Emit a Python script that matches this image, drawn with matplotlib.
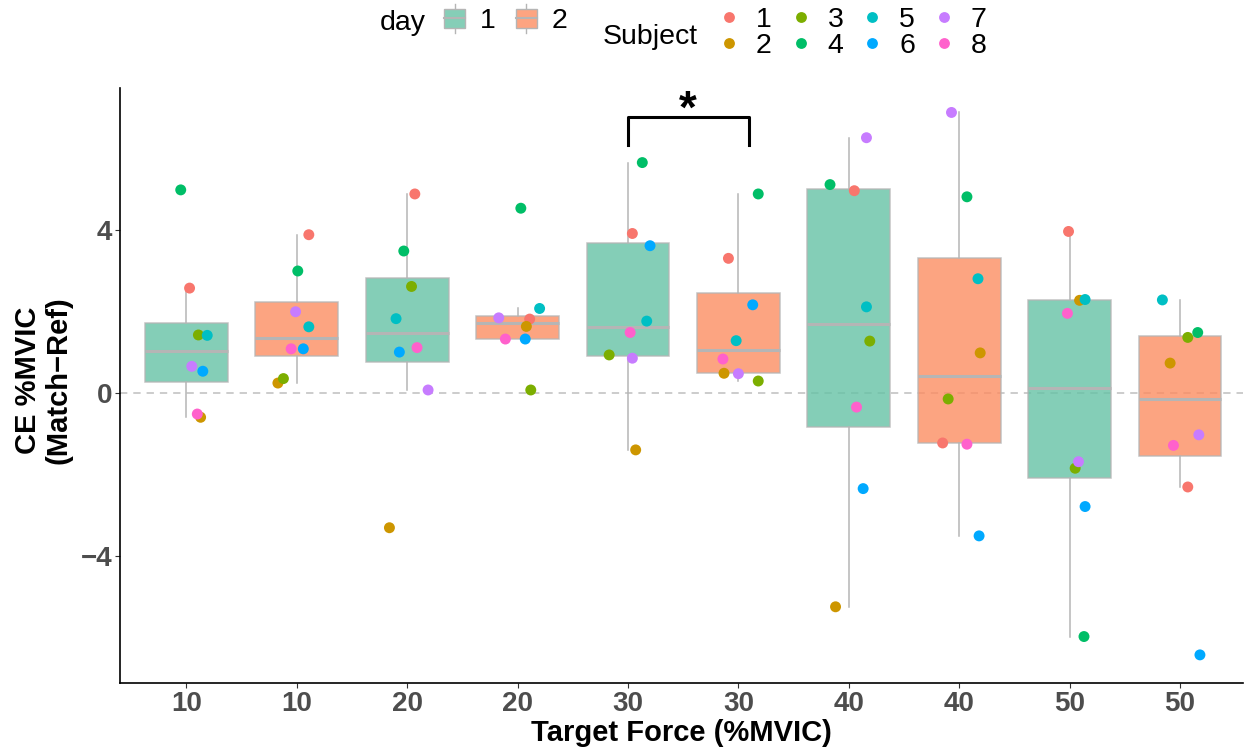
import numpy as np
import matplotlib
matplotlib.use("Agg")
import matplotlib.pyplot as plt
from matplotlib.patches import Rectangle
from matplotlib.lines import Line2D
from matplotlib.legend_handler import HandlerBase


# ============================================
# DATA
# ============================================
target_labels = ["10", "10", "20", "20", "30", "30", "40", "40", "50", "50"]
day_of_box = [1, 2, 1, 2, 1, 2, 1, 2, 1, 2]
subjects = [1, 2, 3, 4, 5, 6, 7, 8]

# CE values per box, subject 1..8
ce_10_d1 = [2.57, -0.60, 1.42, 4.98, 1.41, 0.53, 0.65, -0.52]
ce_10_d2 = [3.88, 0.24, 0.35, 2.99, 1.62, 1.08, 1.99, 1.08]
ce_20_d1 = [4.88, -3.31, 2.61, 3.48, 1.82, 1.00, 0.07, 1.11]
ce_20_d2 = [1.81, 1.63, 0.07, 4.53, 2.07, 1.32, 1.84, 1.32]
ce_30_d1 = [3.91, -1.40, 0.93, 5.65, 1.76, 3.61, 0.85, 1.48]
ce_30_d2 = [3.30, 0.48, 0.29, 4.88, 1.28, 2.16, 0.47, 0.83]
ce_40_d1 = [4.96, -5.25, 1.27, 5.11, 2.11, -2.35, 6.26, -0.35]
ce_40_d2 = [-1.23, 0.98, -0.15, 4.81, 2.80, -3.51, 6.88, -1.26]
ce_50_d1 = [3.96, 2.27, -1.85, -5.98, 2.29, -2.79, -1.69, 1.95]
ce_50_d2 = [-2.31, 0.73, 1.36, 1.48, 2.28, -6.43, -1.03, -1.29]

# horizontal jitter of each point (category units), subject 1..8
jit_10_d1 = [0.03, 0.13, 0.11, -0.05, 0.19, 0.15, 0.05, 0.10]
jit_10_d2 = [0.11, -0.17, -0.12, 0.01, 0.11, 0.06, -0.01, -0.05]
jit_20_d1 = [0.07, -0.16, 0.04, -0.03, -0.10, -0.07, 0.19, 0.09]
jit_20_d2 = [0.11, 0.08, 0.12, 0.03, 0.20, 0.07, -0.17, -0.11]
jit_30_d1 = [0.04, 0.07, -0.17, 0.13, 0.17, 0.20, 0.04, 0.02]
jit_30_d2 = [-0.09, -0.13, 0.18, 0.18, -0.02, 0.13, 0.00, -0.14]
jit_40_d1 = [0.05, -0.12, 0.19, -0.17, 0.16, 0.13, 0.16, 0.07]
jit_40_d2 = [-0.15, 0.19, -0.10, 0.07, 0.17, 0.18, -0.07, 0.07]
jit_50_d1 = [-0.01, 0.09, 0.05, 0.13, 0.14, 0.14, 0.08, -0.02]
jit_50_d2 = [0.07, -0.09, 0.07, 0.16, -0.16, 0.18, 0.17, -0.06]

ce_values = [ce_10_d1, ce_10_d2, ce_20_d1, ce_20_d2, ce_30_d1,
             ce_30_d2, ce_40_d1, ce_40_d2, ce_50_d1, ce_50_d2]
jitters = [jit_10_d1, jit_10_d2, jit_20_d1, jit_20_d2, jit_30_d1,
           jit_30_d2, jit_40_d1, jit_40_d2, jit_50_d1, jit_50_d2]

# significance bracket between the two 30 %MVIC boxes
sig_x = [5, 6.1]
sig_y_low = 6.07
sig_y_high = 6.76


# ============================================
# STYLE
# ============================================
plt.rcParams['font.family'] = ['Liberation Sans', 'DejaVu Sans']

day_colors = {1: "#66C2A5", 2: "#FC8D62"}
subject_colors = ["#F8766D", "#CD9600", "#7CAE00", "#00BE67",
                  "#00BFC4", "#00A9FF", "#C77CFF", "#FF61CC"]
box_gray = "#B5B5B5"
tick_gray = "#4D4D4D"
legend_size = 20.5


# ============================================
# LEGEND KEY THAT LOOKS LIKE A BOXPLOT
# ============================================
class BoxKey(HandlerBase):

    def create_artists(self, legend, orig_handle, xdescent, ydescent,
                       width, height, fontsize, trans):

        cx = -xdescent + width / 2
        y0 = -ydescent

        whisker = Line2D([cx, cx], [y0 - 0.3 * height, y0 + 1.3 * height],
                         color=box_gray, lw=1.0, transform=trans)
        rect = Rectangle((-xdescent, y0), width, height,
                         facecolor=orig_handle.get_facecolor(),
                         edgecolor=box_gray, lw=1.0, transform=trans)
        median = Line2D([-xdescent, -xdescent + width],
                        [y0 + height / 2, y0 + height / 2],
                        color=box_gray, lw=1.5, transform=trans)

        return [whisker, rect, median]


# ============================================
# FIGURE
# ============================================
W, H = 1244, 755
fig = plt.figure(figsize=(W / 100, H / 100), dpi=100)
ax = fig.add_axes([120 / W, 1 - 683 / H, 1123 / W, 595 / H])

positions = np.arange(1, len(ce_values) + 1)

ax.axhline(0, color="#BEBEBE", lw=1.1, linestyle=(0, (4.8, 3.9)), zorder=0)

bp = ax.boxplot(
    ce_values,
    positions=positions,
    widths=0.75,
    whis=1.5,
    patch_artist=True,
    showfliers=False,
    showcaps=False,
    boxprops=dict(edgecolor=box_gray, linewidth=1.1),
    whiskerprops=dict(color=box_gray, linewidth=1.1),
    medianprops=dict(color=box_gray, linewidth=2.2),
    zorder=1
)

for patch, d in zip(bp['boxes'], day_of_box):
    patch.set_facecolor(day_colors[d])
    patch.set_alpha(0.8)
    patch.set_edgecolor(box_gray)

# jittered subject points
for pos, vals, jit in zip(positions, ce_values, jitters):
    for s, v, j in zip(subjects, vals, jit):
        ax.scatter(pos + j, v, s=62, color=subject_colors[s - 1],
                   edgecolors='none', zorder=3)

# significance bracket
ax.plot([sig_x[0], sig_x[0], sig_x[1], sig_x[1]],
        [sig_y_low, sig_y_high, sig_y_high, sig_y_low],
        color="black", lw=2.2, zorder=4)
ax.text(np.mean(sig_x) - 0.01, 6.62, "*", ha="center", va="baseline",
        fontsize=33, fontweight="bold")

# ============================================
# AXES
# ============================================
ax.set_xlim(0.4, 10.57)
ax.set_ylim(-7.12, 7.48)

ax.set_xticks(positions)
ax.set_xticklabels(target_labels)
ax.set_yticks([-4, 0, 4])
ax.set_yticklabels(["\u22124", "0", "4"])

for lab in ax.get_xticklabels() + ax.get_yticklabels():
    lab.set_fontsize(20)
    lab.set_fontweight("bold")
    lab.set_color(tick_gray)

ax.tick_params(axis="both", length=3.6, width=0.8, color="#333333", pad=2)

for side in ["top", "right"]:
    ax.spines[side].set_visible(False)
for side in ["left", "bottom"]:
    ax.spines[side].set_linewidth(1.2)

ax.set_xlabel("Target Force (%MVIC)", fontsize=21, fontweight="bold",
              va="baseline")
ax.xaxis.set_label_coords(0.5, (683 - 741) / 595)

ax.set_ylabel("CE %MVIC\n(Match\u2212Ref)", fontsize=21, fontweight="bold",
              va="center", ha="center", multialignment="center",
              linespacing=1.1)
ax.yaxis.set_label_coords((43 - 120) / 1123, 0.5 + (385.5 - 380) / 595)


# ============================================
# LEGENDS (top)
# ============================================
fig.text(380 / W, 1 - 30 / H, "day", fontsize=legend_size, ha="left",
         va="baseline")
fig.text(603 / W, 1 - 43.5 / H, "Subject", fontsize=legend_size, ha="left",
         va="baseline")

day_handles = [Rectangle((0, 0), 1, 1, facecolor="#85CEB7"),
               Rectangle((0, 0), 1, 1, facecolor="#FDA481")]
leg1 = fig.legend(day_handles, ["1", "2"], ncol=2, frameon=False,
                  fontsize=legend_size, handler_map={Rectangle: BoxKey()},
                  handlelength=0.74, handleheight=0.6, handletextpad=0.53,
                  columnspacing=0.7, borderpad=0, borderaxespad=0,
                  loc="center left",
                  bbox_to_anchor=(444 / W, 1 - 21.5 / H))

subj_handles = [Line2D([], [], marker="o", linestyle="none", markersize=7.8,
                       markerfacecolor=c, markeredgecolor="none")
                for c in subject_colors]
leg2 = fig.legend(subj_handles, [str(s) for s in subjects], ncol=4,
                  frameon=False, fontsize=legend_size,
                  handlelength=0.74, handletextpad=0.58, columnspacing=0.64,
                  labelspacing=0.01, borderpad=0, borderaxespad=0,
                  loc="center left",
                  bbox_to_anchor=(718.5 / W, 1 - 33 / H))

fig.savefig("out.png", dpi=100)
